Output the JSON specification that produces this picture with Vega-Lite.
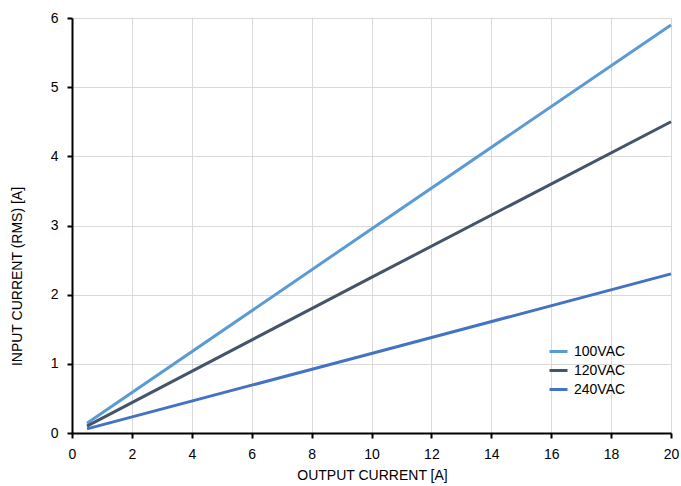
{
  "$schema": "https://vega.github.io/schema/vega-lite/v6.json",
  "width": 599,
  "height": 415,
  "autosize": {"type": "none"},
  "padding": {"left": 72, "top": 18, "right": 10, "bottom": 53},
  "background": "white",
  "config": {
    "view": {"stroke": null},
    "font": "Liberation Sans",
    "axis": {
      "domainColor": "#000000",
      "domainWidth": 2,
      "tickColor": "#000000",
      "tickWidth": 2,
      "tickSize": 5,
      "gridColor": "#D9D9D9",
      "gridWidth": 1,
      "labelFont": "Liberation Sans",
      "labelFontSize": 14,
      "labelColor": "#000000",
      "labelFlush": false,
      "titleFont": "Liberation Sans",
      "titleFontSize": 14,
      "titleFontWeight": "normal",
      "titleColor": "#000000"
    }
  },
  "data": {
    "values": [
      {"out": 0.5, "in": 0.14, "series": "100VAC"},
      {"out": 10, "in": 2.95, "series": "100VAC"},
      {"out": 20, "in": 5.9, "series": "100VAC"},
      {"out": 0.5, "in": 0.1, "series": "120VAC"},
      {"out": 10, "in": 2.25, "series": "120VAC"},
      {"out": 20, "in": 4.5, "series": "120VAC"},
      {"out": 0.5, "in": 0.06, "series": "240VAC"},
      {"out": 10, "in": 1.15, "series": "240VAC"},
      {"out": 20, "in": 2.3, "series": "240VAC"}
    ]
  },
  "mark": {"type": "line", "strokeWidth": 3},
  "encoding": {
    "x": {
      "field": "out",
      "type": "quantitative",
      "scale": {"domain": [0, 20], "nice": false},
      "axis": {"title": "OUTPUT CURRENT [A]", "values": [0,2,4,6,8,10,12,14,16,18,20], "labelPadding": 9, "titleY": 46, "titleBaseline": "alphabetic", "titleX": 300}
    },
    "y": {
      "field": "in",
      "type": "quantitative",
      "scale": {"domain": [0, 6], "nice": false},
      "axis": {"title": "INPUT CURRENT (RMS) [A]", "values": [0,1,2,3,4,5,6], "labelPadding": 9, "titleX": -55, "titleY": 258, "titleAlign": "center", "titleBaseline": "middle", "titleAngle": 270}
    },
    "color": {
      "field": "series",
      "type": "nominal",
      "scale": {"domain": ["100VAC", "120VAC", "240VAC"], "range": ["#5B9BD5", "#44546A", "#4472C4"]},
      "legend": {
        "title": null,
        "orient": "none",
        "legendX": 476,
        "legendY": 323,
        "symbolType": "stroke",
        "symbolStrokeWidth": 3,
        "symbolSize": 324,
        "labelFontSize": 14,
        "labelFont": "Liberation Sans",
        "labelColor": "#000000",
        "rowPadding": 1,
        "labelOffset": 5
      }
    }
  }
}
